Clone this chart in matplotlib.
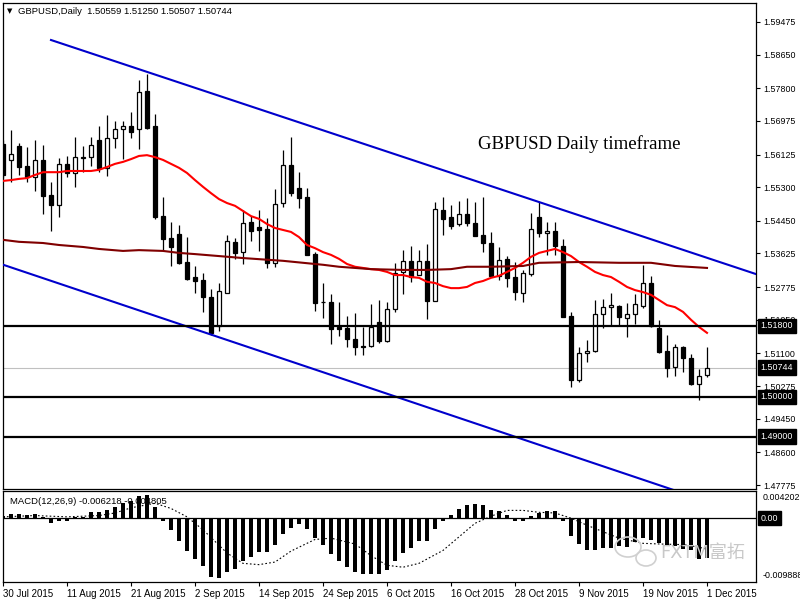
import numpy as np
import matplotlib.pyplot as plt
from matplotlib.transforms import blended_transform_factory
from matplotlib.patches import Ellipse

# GBPUSD daily bars, 30 Jul 2015 .. 1 Dec 2015
opens = [1.5639, 1.5599, 1.5634, 1.5584, 1.5556, 1.5599, 1.5510, 1.5485, 1.5589, 1.5566,
         1.5605, 1.5606, 1.5649, 1.5579, 1.5654, 1.5677, 1.5685, 1.5677, 1.5773, 1.5685,
         1.5457, 1.5402, 1.5412, 1.5341, 1.5303, 1.5296, 1.5253, 1.5179, 1.5263, 1.5392,
         1.5366, 1.5442, 1.5429, 1.5424, 1.5339, 1.5490, 1.5586, 1.5528, 1.5505, 1.5361,
         1.5240, 1.5240, 1.5177, 1.5174, 1.5146, 1.5129, 1.5129, 1.5190, 1.5141, 1.5222,
         1.5316, 1.5344, 1.5308, 1.5344, 1.5243, 1.5472, 1.5455, 1.5437, 1.5462, 1.5440,
         1.5409, 1.5389, 1.5306, 1.5349, 1.5303, 1.5263, 1.5311, 1.5455, 1.5414, 1.5419,
         1.5381, 1.5205, 1.5043, 1.5111, 1.5116, 1.5210, 1.5227, 1.5230, 1.5200, 1.5210,
         1.5230, 1.5288, 1.5174, 1.5116, 1.5076, 1.5126, 1.5098, 1.5033, 1.50559]
highs = [1.5649, 1.5675, 1.5642, 1.5632, 1.5649, 1.5637, 1.5543, 1.5604, 1.5609, 1.5657,
         1.5634, 1.5657, 1.5685, 1.5712, 1.5697, 1.5697, 1.5720, 1.5801, 1.5816, 1.5715,
         1.5505, 1.5442, 1.5435, 1.5404, 1.5331, 1.5313, 1.5273, 1.5288, 1.5409, 1.5402,
         1.5472, 1.5457, 1.5472, 1.5452, 1.5526, 1.5624, 1.5657, 1.5568, 1.5528, 1.5366,
         1.5288, 1.5260, 1.5240, 1.5205, 1.5212, 1.5177, 1.5235, 1.5245, 1.5240, 1.5339,
         1.5371, 1.5381, 1.5371, 1.5387, 1.5493, 1.5505, 1.5485, 1.5495, 1.5503, 1.5493,
         1.5505, 1.5417, 1.5379, 1.5356, 1.5341, 1.5321, 1.5465, 1.5493, 1.5442, 1.5442,
         1.5399, 1.5215, 1.5126, 1.5144, 1.5245, 1.5248, 1.5263, 1.5232, 1.5237, 1.5260,
         1.5334, 1.5306, 1.5195, 1.5157, 1.5134, 1.5129, 1.5109, 1.5071, 1.51250]
lows = [1.5553, 1.5543, 1.5561, 1.5543, 1.5520, 1.5462, 1.5419, 1.5455, 1.5556, 1.5531,
        1.5568, 1.5584, 1.5568, 1.5558, 1.5629, 1.5601, 1.5654, 1.5627, 1.5677, 1.5450,
        1.5371, 1.5331, 1.5337, 1.5296, 1.5263, 1.5215, 1.5157, 1.5167, 1.5262, 1.5349,
        1.5336, 1.5394, 1.5369, 1.5326, 1.5329, 1.5480, 1.5508, 1.5477, 1.5358, 1.5217,
        1.5200, 1.5134, 1.5154, 1.5126, 1.5106, 1.5106, 1.5126, 1.5136, 1.5139, 1.5215,
        1.5260, 1.5291, 1.5307, 1.5197, 1.5242, 1.5409, 1.5424, 1.5432, 1.5432, 1.5406,
        1.5366, 1.5305, 1.5296, 1.5278, 1.5245, 1.5240, 1.5306, 1.5404, 1.5359, 1.5359,
        1.5201, 1.5025, 1.5038, 1.5088, 1.5114, 1.5174, 1.5182, 1.5179, 1.5152, 1.5184,
        1.5225, 1.5178, 1.5111, 1.5050, 1.5053, 1.5063, 1.5030, 1.4992, 1.50507]
closes = [1.5561, 1.5614, 1.5581, 1.5556, 1.5599, 1.5508, 1.5485, 1.5589, 1.5566, 1.5606,
          1.5607, 1.5637, 1.5579, 1.5654, 1.5677, 1.5685, 1.5670, 1.5771, 1.5680, 1.5455,
          1.5399, 1.5379, 1.5339, 1.5298, 1.5293, 1.5253, 1.5162, 1.5268, 1.5394, 1.5364,
          1.5440, 1.5419, 1.5422, 1.5339, 1.5488, 1.5586, 1.5515, 1.5503, 1.5359, 1.5237,
          1.5239, 1.5172, 1.5172, 1.5146, 1.5126, 1.5126, 1.5177, 1.5141, 1.5222, 1.5313,
          1.5344, 1.5303, 1.5344, 1.5243, 1.5475, 1.5450, 1.5432, 1.5462, 1.5440, 1.5407,
          1.5389, 1.5306, 1.5346, 1.5301, 1.5265, 1.5313, 1.5424, 1.5414, 1.5419, 1.5381,
          1.5202, 1.5043, 1.5111, 1.5116, 1.5210, 1.5227, 1.5232, 1.5202, 1.5210, 1.5235,
          1.5288, 1.5179, 1.5114, 1.5073, 1.5126, 1.5098, 1.5033, 1.5053, 1.50744]

# fast moving average (red), one value per bar
ma_fast = [1.5546, 1.5548, 1.5551, 1.5553, 1.5561, 1.5568, 1.5568, 1.5568, 1.5571, 1.5571,
           1.5571, 1.5571, 1.5574, 1.5581, 1.5589, 1.5594, 1.5601, 1.5609, 1.5611, 1.5606,
           1.5599, 1.5589, 1.5579, 1.5566, 1.5548, 1.5531, 1.5515, 1.5500, 1.5490, 1.5483,
           1.5470, 1.5457, 1.5450, 1.5437, 1.5427, 1.5422, 1.5417, 1.5404, 1.5384, 1.5376,
           1.5366, 1.5359, 1.5349, 1.5336, 1.5329, 1.5326, 1.5323, 1.5321, 1.5316, 1.5308,
           1.5308, 1.5303, 1.5301, 1.5291, 1.5288, 1.5280, 1.5275, 1.5275, 1.5278, 1.5288,
           1.5293, 1.5301, 1.5306, 1.5316, 1.5326, 1.5339, 1.5354, 1.5364, 1.5369, 1.5374,
           1.5366, 1.5356, 1.5341, 1.5329, 1.5316, 1.5308, 1.5303, 1.5291, 1.5278, 1.5270,
           1.5265, 1.5258, 1.5245, 1.5232, 1.5227, 1.5215, 1.5195, 1.5177, 1.5162]

# slow moving average (dark red), read at some bars
ma_slow_idx = [0, 2, 5, 7, 10, 12, 15, 17, 20, 22, 24, 30, 35, 40, 42, 46, 50, 53,
               56, 58, 61, 65, 67, 72, 77, 81, 84, 88]
ma_slow = [1.5397, 1.5392, 1.5389, 1.5384, 1.5379, 1.5374, 1.5369, 1.5371, 1.5369, 1.5364,
           1.5361, 1.5351, 1.5344, 1.5334, 1.5329, 1.5323, 1.5321, 1.5321, 1.5323, 1.5329,
           1.5329, 1.5331, 1.5339, 1.5341, 1.5339, 1.5339, 1.5331, 1.5326]

# channel lines: (bar, price) anchors
upper_line = ([6, 94.2], [1.5902, 1.5310])
lower_line = ([-1, 95], [1.5341, 1.4689])

levels = [1.5180, 1.5000, 1.4900]
bid = 1.50744

price_ticks = [1.59475, 1.58650, 1.57800, 1.56975, 1.56125, 1.55300, 1.54450, 1.53625,
               1.52775, 1.51950, 1.51100, 1.50275, 1.49450, 1.48600, 1.47775]

# MACD(12,26,9)
macd = [0.0003, 0.0007, 0.0007, 0.0005, 0.0007, 0.0001, -0.0007, -0.0004, -0.0004, 0.0001,
        0.0002, 0.0009, 0.0009, 0.0013, 0.0018, 0.0024, 0.0026, 0.0034, 0.0036, 0.0018,
        -0.0004, -0.0019, -0.0035, -0.0051, -0.0063, -0.0074, -0.0091, -0.0092, -0.0084, -0.0079,
        -0.0067, -0.0060, -0.0053, -0.0053, -0.0041, -0.0024, -0.0015, -0.0009, -0.0017, -0.0030,
        -0.0041, -0.0055, -0.0066, -0.0075, -0.0083, -0.0087, -0.0087, -0.0087, -0.0081, -0.0067,
        -0.0054, -0.0046, -0.0036, -0.0036, -0.0017, -0.0004, 0.0005, 0.0014, 0.0020, 0.0022,
        0.0020, 0.0013, 0.0011, 0.0005, -0.0004, -0.0005, 0.0003, 0.0008, 0.0011, 0.0011,
        -0.0004, -0.0028, -0.0040, -0.0049, -0.0049, -0.0046, -0.0046, -0.0043, -0.0044, -0.0037,
        -0.0031, -0.0034, -0.0039, -0.0043, -0.0043, -0.0048, -0.0050, -0.0063, -0.006218]
signal_idx = [0, 4, 8, 12, 14, 16, 19, 21, 23, 25, 28, 30, 32, 34, 36, 39, 41, 44, 46, 48,
              50, 52, 55, 57, 59, 61, 63, 65, 67, 69, 71, 73, 75, 77, 80, 82, 85, 87, 88]
signal = [0.0002, 0.0004, 0.0002, 0.0004, 0.0008, 0.0016, 0.0023, 0.0015, 0.0002, -0.0018,
          -0.0054, -0.0070, -0.0072, -0.0068, -0.0051, -0.0033, -0.0031, -0.0040, -0.0058, -0.0073,
          -0.0076, -0.0070, -0.0050, -0.0029, -0.0008, 0.0003, 0.0012, 0.0012, 0.0009, 0.0008,
          0.0000, -0.0011, -0.0021, -0.0031, -0.0039, -0.0040, -0.0041, -0.0045, -0.004805]
macd_top, macd_bottom = 0.004202, -0.009888

date_idx = [0, 8, 16, 24, 32, 40, 48, 56, 64, 72, 80, 88]
date_labels = ['30 Jul 2015', '11 Aug 2015', '21 Aug 2015', '2 Sep 2015', '14 Sep 2015',
               '24 Sep 2015', '6 Oct 2015', '16 Oct 2015', '28 Oct 2015', '9 Nov 2015',
               '19 Nov 2015', '1 Dec 2015']

plt.rcParams['font.family'] = ['Liberation Sans', 'DejaVu Sans']

W, H = 800, 600
def px_box(l, t, r, b):
    return [l / W, 1 - b / H, (r - l) / W, (b - t) / H]

fig = plt.figure(figsize=(8, 6), dpi=100)
ax = fig.add_axes(px_box(2.5, 3, 756, 489))
ax2 = fig.add_axes(px_box(2.5, 491, 756, 582))

x = np.arange(len(opens))
o = np.array(opens)
c = np.array(closes)
up = c >= o

# candles
ax.vlines(x, lows, highs, color='black', lw=0.9, zorder=3)
ax.bar(x[up], (c - o)[up], bottom=o[up], width=0.55, facecolor='white',
       edgecolor='black', lw=0.9, zorder=4)
ax.bar(x[~up], (o - c)[~up], bottom=c[~up], width=0.55, facecolor='black',
       edgecolor='black', lw=0.9, zorder=4)

# indicators and drawings
ax.plot(x, ma_fast, color='#ff0000', lw=1.5, zorder=5)
ax.plot(ma_slow_idx, ma_slow, color='#800000', lw=1.5, zorder=5)
ax.plot(*upper_line, color='#0000cc', lw=1.5, zorder=5)
ax.plot(*lower_line, color='#0000cc', lw=1.5, zorder=5)
for lv in levels:
    ax.axhline(lv, color='black', lw=1.6, zorder=5)
ax.axhline(bid, color='#c0c0c0', lw=0.8, zorder=2)

ax.set_xlim(-0.0625, 94.125)
ax.set_ylim(1.47674, 1.59955)
ax.yaxis.tick_right()
ax.set_yticks(price_ticks)
ax.set_yticklabels(['%.5f' % v for v in price_ticks])
ax.tick_params(axis='y', length=3, width=0.8, pad=2, labelsize=6.4)
ax.tick_params(axis='x', bottom=False, labelbottom=False)

tr = blended_transform_factory(ax.transAxes, ax.transData)
for v in levels + [bid]:
    ax.text(1.006, v, '%.5f' % v, transform=tr, ha='left', va='center', fontsize=6.4,
            color='white', clip_on=False, zorder=10,
            bbox=dict(boxstyle='square,pad=0.3', facecolor='black', edgecolor='black'))

ax.text((478 - 2.5) / 753.5, (489 - 144) / 486, 'GBPUSD Daily timeframe', transform=ax.transAxes,
        family='Liberation Serif', fontsize=13.5, ha='left', va='center')

fig.text(10 / W, 1 - 11 / H, '\u25bc', fontsize=5, ha='center', va='center', family='DejaVu Sans')
fig.text(18 / W, 1 - 11 / H, 'GBPUSD,Daily  1.50559 1.51250 1.50507 1.50744',
         fontsize=6.8, ha='left', va='center')

# MACD panel
ax2.bar(x, macd, width=0.4, color='black', zorder=3)
ax2.plot(signal_idx, signal, color='black', lw=0.8, linestyle=(0, (1.5, 2.0)), zorder=4)
ax2.axhline(0, color='black', lw=0.9, zorder=2)
ax2.set_xlim(-0.0625, 94.125)
ax2.set_ylim(macd_bottom, macd_top)
ax2.set_yticks([])
ax2.set_xticks(date_idx)
ax2.set_xticklabels(date_labels, ha='left')
ax2.tick_params(axis='x', length=3, width=0.8, pad=2, labelsize=7)
ax2.text(7 / 753.5, 0.88, 'MACD(12,26,9) -0.006218 -0.004805', transform=ax2.transAxes,
         fontsize=6.8, ha='left', va='center')

tr2 = blended_transform_factory(ax2.transAxes, ax2.transData)
ax2.text(1.009, 0.934, '0.004202', transform=ax2.transAxes, fontsize=6.4, ha='left',
         va='center', clip_on=False)
ax2.text(1.009, 0.066, '-0.009888', transform=ax2.transAxes, fontsize=6.4, ha='left',
         va='center', clip_on=False)
ax2.text(1.006, 0, '0.00', transform=tr2, fontsize=6.4, ha='left', va='center', color='white',
         clip_on=False, zorder=10,
         bbox=dict(boxstyle='square,pad=0.3', facecolor='black', edgecolor='black'))

# watermark
for cx, cy, w, h in [(628, 547, 26, 20), (646, 558, 20, 16)]:
    fig.add_artist(Ellipse((cx / W, 1 - cy / H), w / W, h / H, fill=False,
                           edgecolor='#d0d0d0', lw=1.2, transform=fig.transFigure))
fig.text(660 / W, 1 - 553 / H, 'FXTM富拓', fontsize=13, color='#c8c8c8', ha='left', va='center',
         family=['DejaVu Sans', 'Noto Sans CJK SC'])

for a in (ax, ax2):
    for s in a.spines.values():
        s.set_linewidth(0.9)

fig.savefig('out.png', dpi=100)
